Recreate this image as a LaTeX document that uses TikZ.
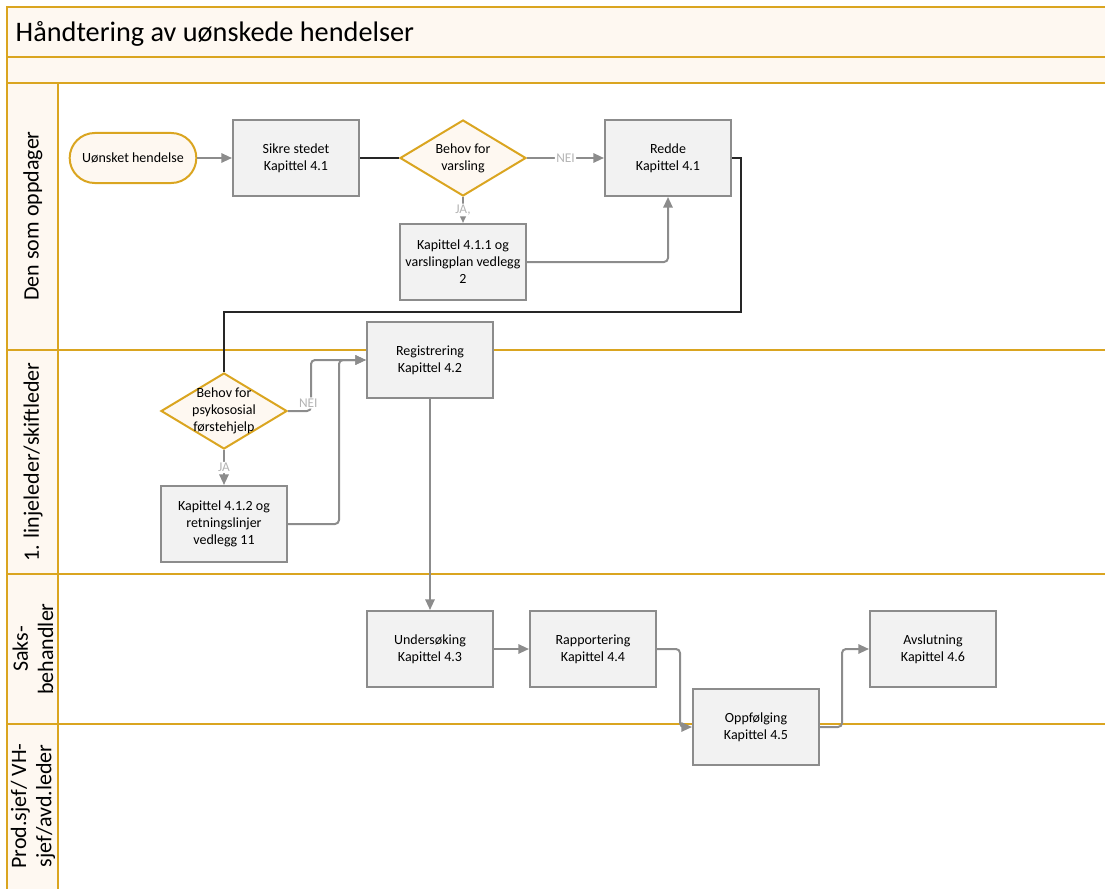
\documentclass[tikz,border=0pt]{standalone}
\usepackage{fontspec}
\setmainfont{Carlito}
\usepackage{xcolor}
\usetikzlibrary{calc,shapes.geometric,arrows.meta}
\definecolor{gold}{HTML}{DAA520}
\definecolor{cream}{HTML}{FEF8F1}
\definecolor{boxfill}{HTML}{F2F2F2}
\definecolor{boxline}{HTML}{8C8C8C}
\definecolor{flowc}{HTML}{8C8C8C}
\definecolor{tagc}{HTML}{B4B4B4}
\definecolor{linkc}{HTML}{262626}
\tikzset{
  pool/.style={draw=gold, line width=1.6pt},
  head/.style={draw=gold, fill=cream, line width=1.6pt},
  lab/.style={text=black, align=center, font=\fontsize{10.5}{12.8}\selectfont},
  lanetxt/.style={text=black, align=center, rotate=90, font=\fontsize{16.5}{19}\selectfont},
  task/.style={lab, draw=boxline, fill=boxfill, line width=1.5pt, minimum width=94.5pt, minimum height=57pt, inner sep=1pt},
  term/.style={lab, draw=gold, fill=cream, line width=1.5pt, minimum width=95pt, minimum height=37.5pt, rounded corners=18.75pt},
  dec/.style={diamond, draw=gold, fill=cream, line width=1.5pt, aspect=1.66, minimum width=94.5pt, minimum height=57pt, inner sep=0pt},
  flow/.style={draw=flowc, line width=1.5pt, rounded corners=3pt, -{Triangle[length=8pt,width=7pt]}},
  link/.style={draw=linkc, line width=1.1pt},
  tag/.style={text=tagc, fill=white, inner sep=1pt, font=\fontsize{10}{11}\selectfont},
}
\begin{document}
\begin{tikzpicture}[x=0.75pt,y=-0.75pt]
  \useasboundingbox (0,0) rectangle (1105,888);
  \clip (0,0) rectangle (1105,888);

  % pool, title band and lanes
  \draw[head] (7,7) rectangle (1120,57);
  \node[anchor=west, font=\fontsize{21.2}{25}\selectfont] (title) at (11,34) {Håndtering av uønskede hendelser};
  \draw[head] (7,57) rectangle (1120,83);
  \fill[cream] (7,83) rectangle (58,900);
  \draw[pool] (7,83) rectangle (1120,900);
  \draw[pool] (58,83) -- (58,900);
  \foreach \y in {350,574,724}
    \draw[pool] (7,\y) -- (1120,\y);
  \node[lanetxt] (lane1) at (33,216) {Den som oppdager};
  \node[lanetxt] (lane2) at (33,462) {1. linjeleder/skiftleder};
  \node[lanetxt] (lane3) at (33,649) {Saks-\\behandler};
  \node[lanetxt] (lane4) at (33,806) {Prod.sjef/ VH-\\sjef/avd.leder};

  % steps
  \node[term] (start) at (133,158) {Uønsket hendelse};
  \node[task] (sikre) at (296,158) {Sikre stedet\\Kapittel 4.1};
  \node[dec, label={[lab]center:Behov for\\varsling}] (varsel) at (463,158) {};
  \node[task] (redde) at (668,158) {Redde\\Kapittel 4.1};
  \node[task] (kap411) at (463,262) {Kapittel 4.1.1 og\\varslingplan vedlegg\\2};
  \node[dec, label={[lab]center:Behov for\\psykososial\\førstehjelp}] (psyk) at (224,411) {};
  \node[task] (kap412) at (224,524) {Kapittel 4.1.2 og\\retningslinjer\\vedlegg 11};
  \node[task] (reg) at (430,360) {Registrering\\Kapittel 4.2};
  \node[task] (unders) at (430,649) {Undersøking\\Kapittel 4.3};
  \node[task] (rapp) at (593,649) {Rapportering\\Kapittel 4.4};
  \node[task] (oppf) at (756,727) {Oppfølging\\Kapittel 4.5};
  \node[task] (avsl) at (933,649) {Avslutning\\Kapittel 4.6};

  % connectors
  \draw[flow] (start) -- (sikre);
  \draw[link] (sikre) -- (varsel);
  \draw[flow] (varsel) -- node[tag] {NEI} (redde);
  \draw[flow] (varsel) -- node[tag] {JA,} (kap411);
  \draw[flow] (kap411.east) -| (redde.south);
  \draw[link] (redde.east) -- ++(9,0) |- ($(psyk.north)+(0,-60)$) -- (psyk.north);
  \draw[flow] (psyk.east) -- ++(23,0) node[tag, xshift=-2pt, yshift=6pt] {NEI} |- (reg.west);
  \draw[flow] (psyk) -- node[tag] {JA} (kap412);
  \draw[flow] (kap412.east) -- ++(51,0) |- (reg.west);
  \draw[flow] (reg) -- (unders);
  \draw[flow] (unders) -- (rapp);
  \draw[flow] (rapp.east) -- ++(23,0) |- (oppf.west);
  \draw[flow] (oppf.east) -- ++(22,0) |- (avsl.west);
\end{tikzpicture}
\end{document}
